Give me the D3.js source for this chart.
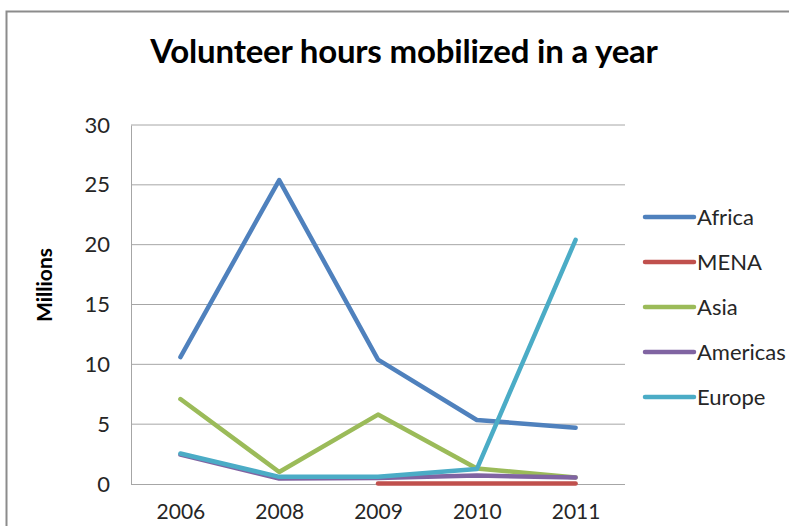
<!DOCTYPE html>
<html>
<head>
<meta charset="utf-8">
<script src="https://cdn.jsdelivr.net/npm/d3@7"></script>
<style>
  body { margin: 0; background: #fff; overflow: hidden; }
  svg { display: block; font-family: Lato, "Open Sans", sans-serif; }
</style>
</head>
<body>
<div id="graph"></div>
<script>
// Chart values
const years = ["2006", "2008", "2009", "2010", "2011"];
const seriesNames = ["Africa", "MENA", "Asia", "Americas", "Europe"];
const seriesColors = ["#4F81BD", "#C0504D", "#9BBB59", "#8064A2", "#4BACC6"];
const africa = [10.6, 25.4, 10.4, 5.35, 4.7];
const mena = [null, null, 0.05, 0.05, 0.05];
const asia = [7.1, 1.0, 5.8, 1.3, 0.55];
const americas = [2.45, 0.45, 0.5, 0.7, 0.55];
const europe = [2.55, 0.6, 0.6, 1.25, 20.4];
const yTicks = [0, 5, 10, 15, 20, 25, 30];

const allValues = [africa, mena, asia, americas, europe];

const w = 789, h = 526;
const margin = { top: 125, right: 164, bottom: 42, left: 131 };
const innerWidth = w - margin.left - margin.right;
const innerHeight = h - margin.top - margin.bottom;

const svg = d3.select("#graph")
    .append("svg")
    .attr("width", w)
    .attr("height", h);

// chart frame: only the top and left edges are inside the window
svg.append("path")
    .attr("d", `M6.5,${h}V11.5H${w}`)
    .attr("fill", "none")
    .attr("stroke", "#8c8c8c")
    .attr("stroke-width", 2);

svg.append("text")
    .attr("x", 404)
    .attr("y", 63)
    .attr("text-anchor", "middle")
    .attr("font-size", 33)
    .attr("font-weight", "bold")
    .attr("letter-spacing", -0.2)
    .text("Volunteer hours mobilized in a year");

const xScale = d3.scalePoint()
    .domain(years)
    .range([0, innerWidth])
    .padding(0.5);

const yScale = d3.scaleLinear()
    .domain([0, 30])
    .range([innerHeight, 0]);

const g = svg.append("g")
    .attr("transform", `translate(${margin.left},${margin.top})`);

// gridlines
g.selectAll(".grid")
    .data(yTicks.filter(d => d > 0))
    .enter()
    .append("line")
    .attr("x1", 0).attr("x2", innerWidth)
    .attr("y1", d => yScale(d)).attr("y2", d => yScale(d))
    .attr("stroke", "#a6a6a6")
    .attr("stroke-width", 1);

const yAxis = d3.axisLeft(yScale).tickValues(yTicks).tickSize(0).tickPadding(21);
const yAxisG = g.append("g").call(yAxis)
    .attr("font-family", null)
    .attr("font-size", 22);
yAxisG.select(".domain").attr("stroke", "#a6a6a6");
yAxisG.selectAll("text").attr("fill", "#262626");

const xAxis = d3.axisBottom(xScale).tickSize(0).tickPadding(20);
const xAxisG = g.append("g")
    .attr("transform", `translate(0,${innerHeight})`)
    .call(xAxis)
    .attr("font-family", null)
    .attr("font-size", 21);
xAxisG.select(".domain").attr("stroke", "#a6a6a6").attr("d", `M0,0.5H${innerWidth}`);
xAxisG.selectAll("text").attr("fill", "#262626");

// lines
const lineGenerator = d3.line()
    .defined(d => d.v !== null)
    .x(d => xScale(d.year))
    .y(d => yScale(d.v));

seriesNames.forEach((name, i) => {
    const pts = years.map((y, j) => ({ year: y, v: allValues[i][j] }));
    g.append("path")
        .attr("class", "line-path")
        .attr("d", lineGenerator(pts))
        .attr("fill", "none")
        .attr("stroke", seriesColors[i])
        .attr("stroke-width", 4.5)
        .attr("stroke-linecap", "round")
        .attr("stroke-linejoin", "round");
});

// y axis title
svg.append("text")
    .attr("transform", "translate(52,285) rotate(-90)")
    .attr("text-anchor", "middle")
    .attr("font-size", 21)
    .attr("font-weight", "bold")
    .text("Millions");

// legend
const legend = svg.append("g").attr("transform", "translate(645,217)");
seriesNames.forEach((name, i) => {
    const row = legend.append("g").attr("transform", `translate(0,${i * 45})`);
    row.append("line")
        .attr("x1", 0).attr("x2", 49)
        .attr("stroke", seriesColors[i])
        .attr("stroke-width", 4.5)
        .attr("stroke-linecap", "round");
    row.append("text")
        .attr("x", 52)
        .attr("y", 8)
        .attr("font-size", 22)
        .attr("fill", "#262626")
        .text(name);
});
</script>
</body>
</html>
